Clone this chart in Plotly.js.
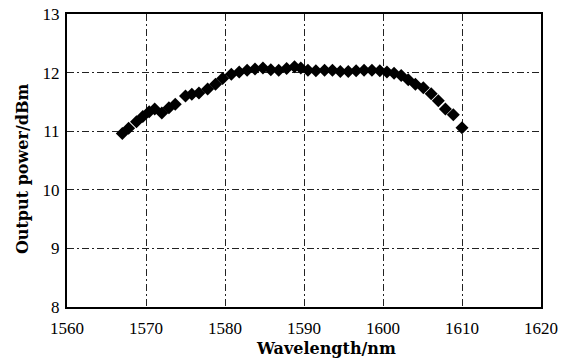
<!DOCTYPE html>
<html>
<head>
<meta charset="utf-8">
<script src="https://cdn.plot.ly/plotly-3.0.1.min.js"></script>
<style>html,body{margin:0;padding:0;background:#fff;}#chart{width:571px;height:358px;}</style>
</head>
<body>
<div id="chart"></div>
<script>
const wavelength = [1567, 1567.8, 1568.8, 1569.6, 1570.4, 1571.1, 1572, 1572.9, 1573.7, 1575, 1575.8, 1576.7, 1577.8, 1578.8, 1579.7, 1580.8, 1581.8, 1582.8, 1583.8, 1584.8, 1585.8, 1586.8, 1587.8, 1588.8, 1589.6, 1590.5, 1591.5, 1592.6, 1593.6, 1594.6, 1595.6, 1596.6, 1597.6, 1598.6, 1599.6, 1600.5, 1601.4, 1602.3, 1603.2, 1604.1, 1605.1, 1606.1, 1607, 1607.9, 1608.9, 1610];
const outputPower = [10.96, 11.05, 11.16, 11.25, 11.33, 11.38, 11.31, 11.4, 11.46, 11.6, 11.63, 11.65, 11.72, 11.8, 11.9, 11.97, 12.01, 12.04, 12.06, 12.08, 12.05, 12.04, 12.07, 12.1, 12.08, 12.04, 12.03, 12.04, 12.04, 12.02, 12.02, 12.03, 12.04, 12.04, 12.03, 12.01, 11.99, 11.95, 11.88, 11.8, 11.74, 11.64, 11.52, 11.38, 11.28, 11.06];
const xTicks = [1560, 1570, 1580, 1590, 1600, 1610, 1620];
const yTicks = [8, 9, 10, 11, 12, 13];
const xTitle = 'Wavelength/nm';
const yTitle = 'Output power/dBm';

const trace = {
  x: wavelength, y: outputPower, type: 'scatter', mode: 'markers',
  marker: {symbol: 'diamond', size: 10, color: '#000'},
  hoverinfo: 'skip'
};
const tickFont = {family: 'Liberation Serif, serif', size: 17, color: '#000'};
const titleFont = {family: 'DejaVu Serif, serif', size: 16, color: '#000', weight: 'bold'};
const gridDash = '7px,3px,2px,3px';
const layout = {
  width: 571, height: 358,
  margin: {l: 67, r: 30, t: 14, b: 51},
  paper_bgcolor: '#fff', plot_bgcolor: '#fff',
  showlegend: false,
  xaxis: {
    range: [1560, 1620], tickvals: xTicks, ticktext: xTicks.map(String),
    showline: true, mirror: true, linecolor: '#000', linewidth: 2,
    showgrid: true, gridcolor: '#222', gridwidth: 1, griddash: gridDash,
    zeroline: false, ticks: '', tickfont: tickFont, ticklabelstandoff: 5
  },
  yaxis: {
    range: [8, 13], tickvals: yTicks, ticktext: yTicks.map(String),
    showline: true, mirror: true, linecolor: '#000', linewidth: 2,
    showgrid: true, gridcolor: '#222', gridwidth: 1, griddash: gridDash,
    zeroline: false, ticks: '', tickfont: tickFont, ticklabelstandoff: 2
  },
  annotations: [
    {text: xTitle, xref: 'paper', yref: 'paper', x: 0.546, y: -0.14,
     xanchor: 'center', yanchor: 'middle', showarrow: false, font: titleFont},
    {text: yTitle, xref: 'paper', yref: 'paper', x: -0.095, y: 0.474,
     xanchor: 'center', yanchor: 'middle', textangle: -90, showarrow: false, font: titleFont}
  ]
};
Plotly.newPlot('chart', [trace], layout, {displayModeBar: false, staticPlot: true});
</script>
</body>
</html>
